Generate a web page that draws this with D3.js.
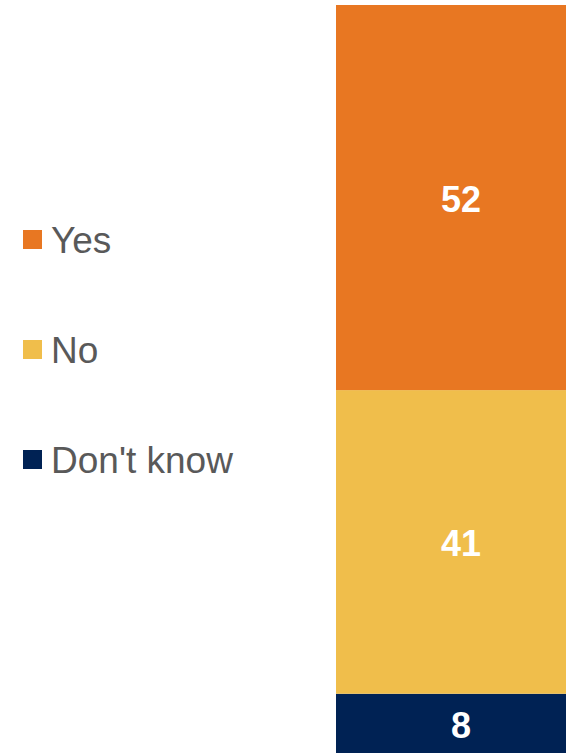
<!DOCTYPE html>
<html>
<head>
<meta charset="utf-8">
<script src="https://cdn.jsdelivr.net/npm/d3@7"></script>
<style>
  html, body { margin: 0; padding: 0; background: #fff; }
  svg { display: block; font-family: Arial, "Liberation Sans", sans-serif; }
</style>
</head>
<body>
<svg id="chart" width="566" height="754"></svg>
<script>
// Survey answers, one stacked bar
const categories = ['Yes', 'No', "Don't know"];
const values = [52, 41, 8];
const colors = ['#E87722', '#F0BE4B', '#002254'];

const width = 566;
const height = 754;
const bar = {left: 336, right: 566, top: 5, bottom: 753};

const svg = d3.select('#chart');

// stack the values bottom-up: Don't know at the bottom, Yes on top
const total = d3.sum(values);
const y = d3.scaleLinear().domain([0, total]).range([bar.bottom, bar.top]);

let running = 0;
const segments = categories.map((c, i) => ({key: c, value: values[i], color: colors[i]}))
  .reverse()
  .map(d => {
    const s = {...d, y0: running, y1: running + d.value};
    running += d.value;
    return s;
  });

const g = svg.append('g').attr('class', 'bar');

g.selectAll('rect').data(segments)
  .enter().append('rect')
  .attr('x', bar.left)
  .attr('width', bar.right - bar.left)
  .attr('y', d => y(d.y1))
  .attr('height', d => y(d.y0) - y(d.y1))
  .attr('fill', d => d.color);

g.selectAll('text').data(segments)
  .enter().append('text')
  .attr('x', (bar.left + bar.right) / 2 + 10)
  .attr('y', d => (y(d.y0) + y(d.y1)) / 2)
  .attr('dy', '0.4em')
  .attr('text-anchor', 'middle')
  .attr('font-size', 36)
  .attr('font-weight', 'bold')
  .attr('fill', '#fff')
  .text(d => d.value);

// legend on the left
const legendY = d3.scalePoint().domain(categories).range([239.5, 459.5]);

const legend = svg.append('g').attr('class', 'legend');
const item = legend.selectAll('g').data(categories)
  .enter().append('g')
  .attr('transform', d => `translate(23, ${legendY(d)})`);

item.append('rect')
  .attr('x', 0).attr('y', -9.5)
  .attr('width', 19).attr('height', 19)
  .attr('fill', (d, i) => colors[i]);

item.append('text')
  .attr('x', 28)
  .attr('y', 13)
  .attr('font-size', 37)
  .attr('fill', '#595959')
  .text(d => d);
</script>
</body>
</html>
